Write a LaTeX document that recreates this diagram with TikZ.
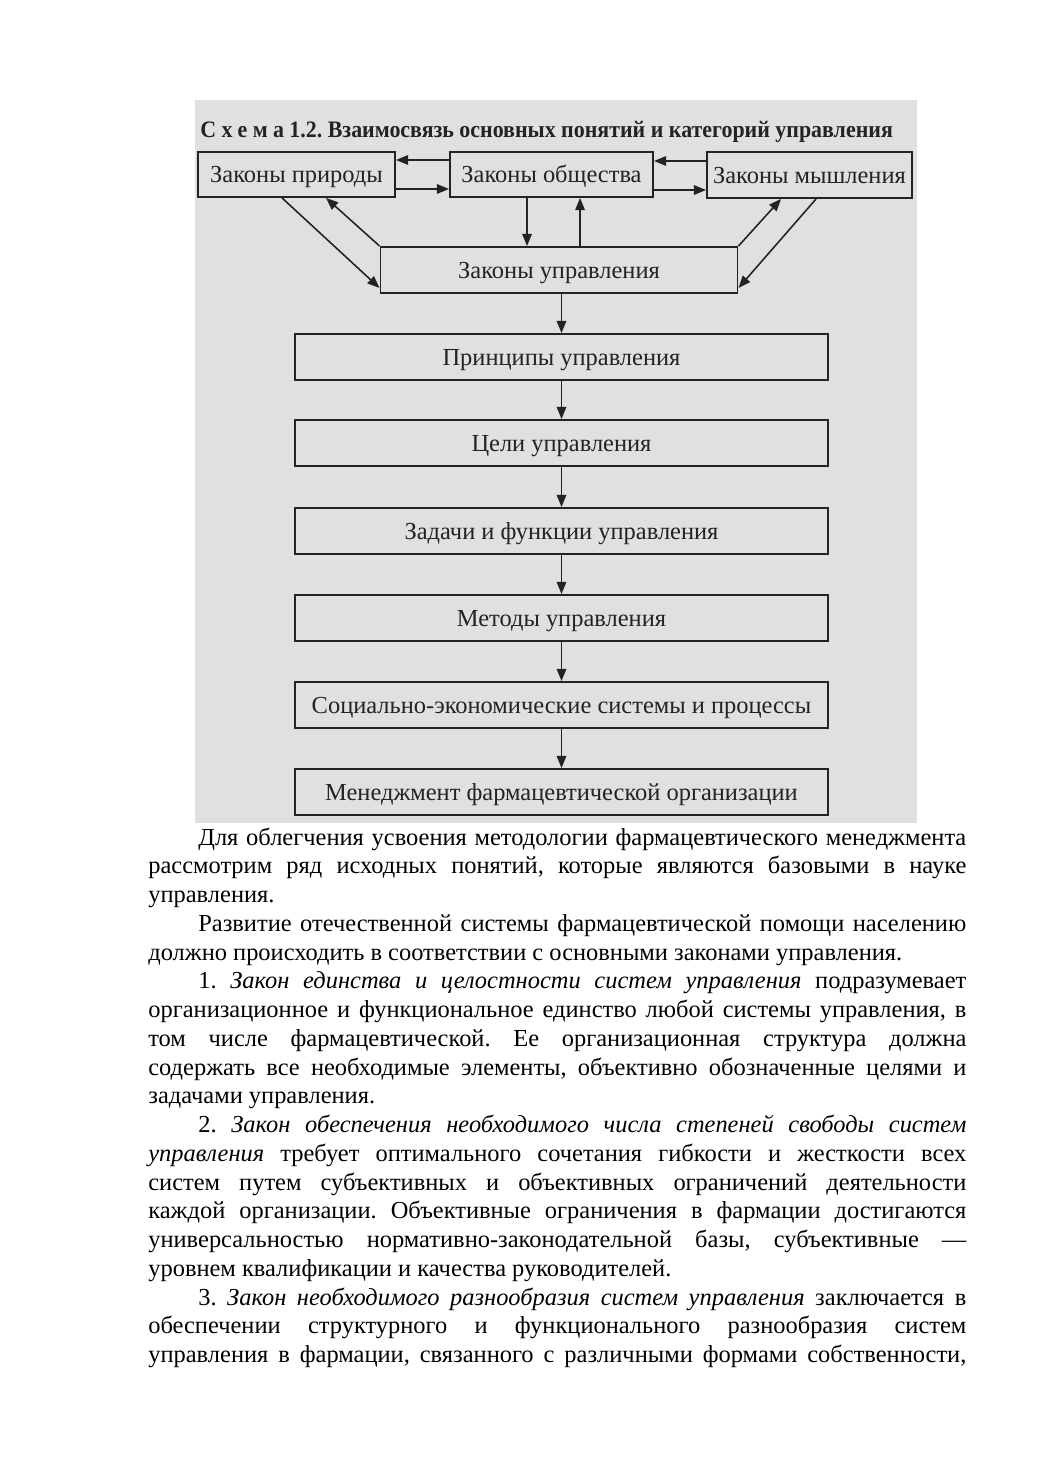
\documentclass[tikz,border=0pt]{standalone}
\usepackage{fontspec}
\setmainfont{Liberation Serif}
\usetikzlibrary{arrows.meta,calc}
\definecolor{scan}{RGB}{224,223,226}
\definecolor{ink}{RGB}{35,35,35}
\newcommand{\fullline}[1]{\makebox[468.5pt][s]{#1}}
\newcommand{\indline}[1]{\makebox[439.8pt][s]{#1}}
\begin{document}
\frenchspacing
\begin{tikzpicture}[x=0.5727pt,y=-0.5727pt,
  wh/.style 2 args={minimum width=#1*0.5727pt,minimum height=#2*0.5727pt},
  box/.style={draw=ink,line width=1.1pt,inner sep=0pt,text=ink,
    text height=9.6pt,text depth=0pt,
    font=\fontsize{14pt}{16pt}\selectfont},
  arr/.style={draw=ink,line width=0.9pt,-{Triangle[length=7pt,width=5.5pt]}},
  body/.style={anchor=base west,inner sep=0pt,font=\fontsize{14pt}{16.5pt}\selectfont\frenchspacing}]
\useasboundingbox (0,0) rectangle (1039,1471);
\fill[white] (0,0) rectangle (1039,1471);
\fill[scan] (195,100) rectangle (917,823);
% title
\node[anchor=base west,inner sep=0pt,text=ink,font=\bfseries\fontsize{13.5pt}{15pt}\selectfont] (title) at (200,138)
  {\scalebox{0.93}[1]{{\addfontfeature{LetterSpace=25}Схема} 1.2. Взаимосвязь основных понятий и категорий управления}};
% boxes
\node[box,wh={197}{45}] (zp) at (296.5,174.5) {Законы природы};
\node[box,wh={203}{45}] (zo) at (551.5,174.5) {Законы общества};
\node[box,wh={205}{46}] (zm) at (809.5,175) {Законы мышления};
\node[box,wh={357}{46}] (zu) at (559,270) {Законы управления};
\node[box,wh={533}{46}] (pr) at (561.5,357) {Принципы управления};
\node[box,wh={533}{46}] (ce) at (561.5,443) {Цели управления};
\node[box,wh={533}{46}] (za) at (561.5,531) {Задачи и функции управления};
\node[box,wh={533}{46}] (me) at (561.5,618) {Методы управления};
\node[box,wh={533}{46}] (so) at (561.5,705) {Социально-экономические системы и процессы};
\node[box,wh={533}{46}] (mn) at (561.5,792) {Менеджмент фармацевтической организации};
% horizontal links
\draw[arr] ($(zo.west)+(0,-14.5)$) -- ($(zp.east)+(0,-14.5)$);
\draw[arr] ($(zp.east)+(0,14.5)$) -- ($(zo.west)+(0,14.5)$);
\draw[arr] ($(zm.west)+(0,-14)$) -- ($(zo.east)+(0,-13.5)$);
\draw[arr] ($(zo.east)+(0,15.5)$) -- ($(zm.west)+(0,15)$);
% links with Законы управления
\coordinate (dn) at ($(zo.south west)+(78,0)$);
\coordinate (up) at ($(zo.south west)+(131,0)$);
\draw[arr] ($(zp.south west)+(85,0)$) -- ($(zu.south west)+(0,-6)$);
\draw[arr] (zu.north west) -- ($(zp.south west)+(129,0)$);
\draw[arr] (dn) -- (dn |- zu.north);
\draw[arr] (up |- zu.north) -- (up);
\draw[arr] (zu.north east) -- ($(zm.south west)+(75,0)$);
\draw[arr] ($(zm.south west)+(110,0)$) -- ($(zu.south east)+(0,-6)$);
% vertical chain
\draw[arr] (zu.south -| pr.north) -- (pr.north);
\draw[arr] (pr.south) -- (ce.north);
\draw[arr] (ce.south) -- (za.north);
\draw[arr] (za.south) -- (me.north);
\draw[arr] (me.south) -- (so.north);
\draw[arr] (so.south) -- (mn.north);
% body text
\node[body] (l1) at (198,845) {\indline{Для облегчения усвоения методологии фармацевтического менеджмента}};
\node[body] (l2) at (148,873.75) {\fullline{рассмотрим ряд исходных понятий, которые являются базовыми в науке}};
\node[body] (l3) at (148,902.5) {управления.};
\node[body] (l4) at (198,931.25) {\indline{Развитие отечественной системы фармацевтической помощи населению}};
\node[body] (l5) at (148,960) {должно происходить в соответствии с основными законами управления.};
\node[body] (l6) at (198,988.75) {\indline{1. \textit{Закон единства и целостности систем управления} подразумевает}};
\node[body] (l7) at (148,1017.5) {\fullline{организационное и функциональное единство любой системы управления, в}};
\node[body] (l8) at (148,1046.25) {\fullline{том числе фармацевтической. Ее организационная структура должна}};
\node[body] (l9) at (148,1075) {\fullline{содержать все необходимые элементы, объективно обозначенные целями и}};
\node[body] (l10) at (148,1103.75) {задачами управления.};
\node[body] (l11) at (198,1132.5) {\indline{2. \textit{Закон обеспечения необходимого числа степеней свободы систем}}};
\node[body] (l12) at (148,1161.25) {\fullline{\textit{управления} требует оптимального сочетания гибкости и жесткости всех}};
\node[body] (l13) at (148,1190) {\fullline{систем путем субъективных и объективных ограничений деятельности}};
\node[body] (l14) at (148,1218.75) {\fullline{каждой организации. Объективные ограничения в фармации достигаются}};
\node[body] (l15) at (148,1247.5) {\fullline{универсальностью нормативно-законодательной базы, субъективные —}};
\node[body] (l16) at (148,1276.25) {уровнем квалификации и качества руководителей.};
\node[body] (l17) at (198,1305) {\indline{3. \textit{Закон необходимого разнообразия систем управления} заключается в}};
\node[body] (l18) at (148,1333.75) {\fullline{обеспечении структурного и функционального разнообразия систем}};
\node[body] (l19) at (148,1362.5) {\fullline{управления в фармации, связанного с различными формами собственности,}};
\end{tikzpicture}
\end{document}
